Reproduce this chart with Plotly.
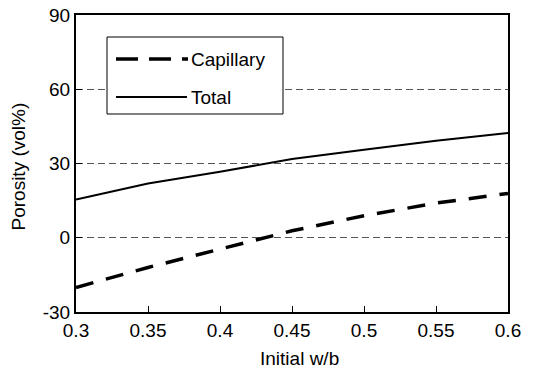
import plotly.graph_objects as go

wb = [0.3, 0.35, 0.4, 0.45, 0.5, 0.55, 0.6]
total = [15.4, 21.9, 26.7, 31.8, 35.6, 39.2, 42.3]
capillary = [-20.1, -12.0, -4.6, 2.8, 8.9, 14.0, 17.9]
x_ticks = [0.3, 0.35, 0.4, 0.45, 0.5, 0.55, 0.6]
y_ticks = [-30, 0, 30, 60, 90]

fig = go.Figure()
fig.add_trace(go.Scatter(x=wb, y=capillary, mode="lines", name="Capillary",
                         line=dict(color="black", width=3.5, dash="18px,13px"), showlegend=False))
fig.add_trace(go.Scatter(x=wb, y=total, mode="lines", name="Total",
                         line=dict(color="black", width=2), showlegend=False))

font = dict(family="Liberation Sans, Arial, sans-serif", color="black")
FS = 19

L, R, T, B = 76, 508, 15, 312

fig.update_layout(
    width=538, height=373,
    margin=dict(l=L, r=538 - R, t=T, b=373 - B),
    plot_bgcolor="white", paper_bgcolor="white",
    font=dict(size=FS, **font),
    xaxis=dict(range=[0.3, 0.6], tickvals=x_ticks, ticktext=[f"{v:g}" for v in x_ticks],
               ticks="inside", ticklen=6, tickwidth=1, tickcolor="black",
               showline=True, linecolor="black", linewidth=2, mirror=True,
               showgrid=False, zeroline=False, automargin=False,
               tickfont=dict(size=FS)),
    yaxis=dict(range=[-30, 90], tickvals=y_ticks, ticktext=[str(v) for v in y_ticks],
               ticks="inside", ticklen=6, tickwidth=1, tickcolor="black",
               showline=True, linecolor="black", linewidth=2, mirror=True,
               showgrid=True, gridcolor="#555555", gridwidth=1, griddash="7px,4px",
               zeroline=False, automargin=False,
               tickfont=dict(size=FS)),
)

def px_x(p):
    return (p - L) / (R - L)

def px_y(p):
    return 1 - (p - T) / (B - T)

# axis titles
fig.add_annotation(xref="paper", yref="paper", x=px_x(299.5), y=px_y(358), text="Initial w/b",
                   showarrow=False, xanchor="center", yanchor="middle", font=dict(size=FS, **font))
fig.add_annotation(xref="paper", yref="paper", x=px_x(18), y=px_y(166.5), text="Porosity (vol%)",
                   showarrow=False, xanchor="center", yanchor="middle", textangle=-90,
                   font=dict(size=FS, **font))

# custom legend (box, samples, labels)
fig.add_shape(type="rect", xref="paper", yref="paper",
              x0=px_x(107), x1=px_x(283), y0=px_y(114), y1=px_y(37),
              line=dict(color="black", width=1), fillcolor="white", layer="above")
fig.add_shape(type="line", xref="paper", yref="paper",
              x0=px_x(116), x1=px_x(188), y0=px_y(59), y1=px_y(59),
              line=dict(color="black", width=3.5, dash="22px,11px"), layer="above")
fig.add_shape(type="line", xref="paper", yref="paper",
              x0=px_x(116), x1=px_x(187), y0=px_y(97), y1=px_y(97),
              line=dict(color="black", width=2), layer="above")
fig.add_annotation(xref="paper", yref="paper", x=px_x(189), y=px_y(59), text="Capillary",
                   showarrow=False, xanchor="left", yanchor="middle", font=dict(size=FS, **font))
fig.add_annotation(xref="paper", yref="paper", x=px_x(189), y=px_y(97), text="Total",
                   showarrow=False, xanchor="left", yanchor="middle", font=dict(size=FS, **font))

fig.write_html("out.html", config={"displayModeBar": False},
               post_script="document.body.style.margin='0';document.body.style.overflow='hidden';")
